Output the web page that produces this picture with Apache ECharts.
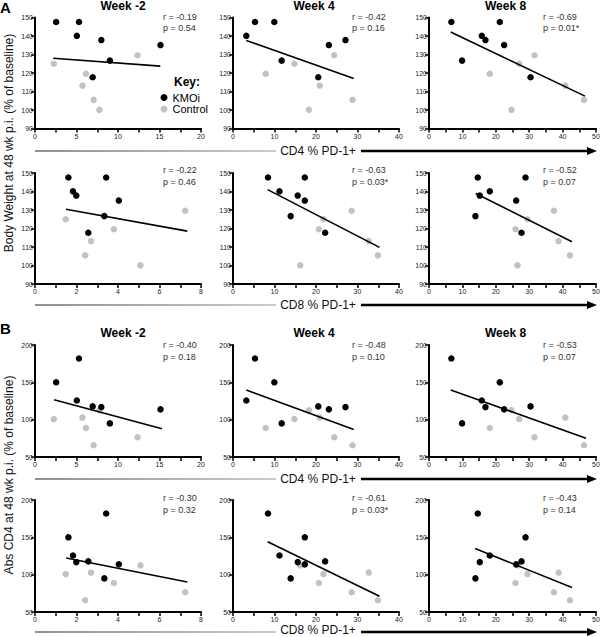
<!DOCTYPE html>
<html><head><meta charset="utf-8">
<script src="https://cdn.jsdelivr.net/npm/echarts@6/dist/echarts.min.js"></script>
<style>html,body{margin:0;padding:0;background:#fff}#c{width:600px;height:637px}</style>
</head><body><div id="c"></div>
<script>
// ---------- data (per subject) ----------
const weeks = ['Week -2', 'Week 4', 'Week 8'];
const groupNames = ['KMOi', 'Control'];
// outcomes (y)
const bwKmoi  = [147.6, 147.6, 140.1, 137.8, 135.1, 126.7, 117.7];
const bwCtrl  = [125.0, 129.6, 119.6, 113.2, 105.5, 100.1];
const absKmoi = [150.0, 182.0, 125.7, 116.8, 113.8, 95.0, 117.8];
const absCtrl = [100.8, 76.4, 88.8, 102.8, 65.7, 112.5];
// CD4 % PD-1+ (x)
const cd4KmoiWm2 = [2.55, 5.3, 5.04, 7.99, 15.12, 9.02, 6.95];
const cd4KmoiW4  = [9.96, 5.30, 3.21, 27.1, 23.1, 11.73, 20.55];
const cd4KmoiW8  = [21.2, 6.7, 15.8, 16.9, 22.5, 9.9, 30.4];
const cd4CtrlWm2 = [2.27, 12.35, 6.14, 5.72, 7.07, 7.75];
const cd4CtrlW4  = [14.8, 24.4, 7.87, 20.9, 28.8, 18.3];
const cd4CtrlW8  = [27.0, 31.6, 18.2, 40.8, 46.4, 24.7];
// CD8 % PD-1+ (x)
const cd8KmoiWm2 = [1.61, 3.43, 1.83, 1.99, 4.04, 3.34, 2.57];
const cd8KmoiW4  = [17.3, 8.43, 11.2, 15.6, 17.3, 13.9, 22.2];
const cd8KmoiW8  = [28.9, 14.6, 18.2, 15.2, 26.1, 13.9, 27.7];
const cd8CtrlWm2 = [1.48, 7.24, 3.8, 2.7, 2.42, 5.08];
const cd8CtrlW4  = [21.8, 28.6, 20.7, 32.7, 34.9, 16.2];
const cd8CtrlW8  = [29.5, 37.4, 25.9, 38.8, 42.2, 26.5];
// regression line end points per panel (row-major)
const fitLines = [
  [[2.2, 128.0], [15.1, 123.7]], [[3.2, 137.6], [29.1, 117.0]], [[6.5, 142.2], [46.7, 107.5]],
  [[1.49, 130.4], [7.34, 118.6]], [[8.35, 141.0], [35.3, 109.8]], [[14.0, 138.9], [42.8, 112.8]],
  [[2.3, 126.6], [15.3, 87.9]], [[3.2, 139.6], [29.1, 86.9]], [[6.5, 139.6], [47.0, 75.2]],
  [[1.5, 122.3], [7.34, 90.2]], [[8.35, 144.0], [35.3, 71.0]], [[13.8, 135.1], [42.8, 82.7]]
];
const rValues = ['-0.19', '-0.42', '-0.69', '-0.22', '-0.63', '-0.52', '-0.40', '-0.48', '-0.53', '-0.30', '-0.61', '-0.43'];
const pValues = ['0.54', '0.16', '0.01*', '0.46', '0.03*', '0.07', '0.18', '0.10', '0.07', '0.32', '0.03*', '0.14'];
// axes
const cd4Max = [20, 40, 50], cd4Tick = [2.5, 5, 5], cd4Label = [5, 10, 10];
const cd8Max = [8, 40, 50],  cd8Tick = [1, 5, 5],   cd8Label = [2, 10, 10];
const bwAxis = [90, 150, 10];
const absAxis = [50, 200, 50];
const xTitles = ['CD4 % PD-1+', 'CD8 % PD-1+'];
const yTitles = ['Body Weight at 48 wk p.i. (% of baseline)', 'Abs CD4 at 48 wk p.i. (% of baseline)'];

// ---------- layout ----------
const colLeft = [35, 233, 429], colW = [166, 166, 167];
const rowTop = [17.5, 173, 345, 500], rowH = [111, 111, 112, 112];
const statX = [163, 352, 543], statY = [16.5, 170, 345, 498];
const titleX = [123, 314, 505.5], titleRowY = {0: 6, 2: 333};
const arrowY = [151, 305, 479, 632];
const arrowTextY = [151, 305, 479, 630];
const FONT = 'Liberation Sans, Arial, Helvetica, sans-serif';

const cd4K = [cd4KmoiWm2, cd4KmoiW4, cd4KmoiW8], cd4C = [cd4CtrlWm2, cd4CtrlW4, cd4CtrlW8];
const cd8K = [cd8KmoiWm2, cd8KmoiW4, cd8KmoiW8], cd8C = [cd8CtrlWm2, cd8CtrlW4, cd8CtrlW8];
const zip = (xs, ys) => xs.map((x, i) => [x, ys[i]]);

const grid = [], xAxis = [], yAxis = [], series = [], graphic = [];
for (let r = 0; r < 4; r++) {
  for (let c = 0; c < 3; c++) {
    const p = r * 3 + c;
    const isCD4 = (r % 2 === 0);
    const isBW = r < 2;
    grid.push({left: colLeft[c], top: rowTop[r], width: colW[c], height: rowH[r], containLabel: false, outerBoundsMode: 'none'});
    const xmax = isCD4 ? cd4Max[c] : cd8Max[c];
    const xint = isCD4 ? cd4Tick[c] : cd8Tick[c];
    const xlab = isCD4 ? cd4Label[c] : cd8Label[c];
    const ya = isBW ? bwAxis : absAxis;
    const axisCommon = {
      axisLine: {show: true, onZero: false, lineStyle: {color: '#000', width: 2}},
      axisTick: {show: true, inside: false, length: 4, lineStyle: {color: '#000', width: 1.5}},
      splitLine: {show: false},
      axisLabel: {fontSize: 7, color: '#222', fontFamily: FONT}
    };
    xAxis.push(Object.assign({}, axisCommon, {
      type: 'value', gridIndex: p, min: 0, max: xmax, interval: xint,
      axisLabel: Object.assign({}, axisCommon.axisLabel, {margin: 4,
        formatter: v => (Math.abs(v / xlab - Math.round(v / xlab)) < 1e-6 ? String(v) : '')})
    }));
    yAxis.push(Object.assign({}, axisCommon, {
      type: 'value', gridIndex: p, min: ya[0], max: ya[1], interval: ya[2],
      axisLabel: Object.assign({}, axisCommon.axisLabel, {margin: 2})
    }));
    const xs = isCD4 ? [cd4K[c], cd4C[c]] : [cd8K[c], cd8C[c]];
    const ys = isBW ? [bwKmoi, bwCtrl] : [absKmoi, absCtrl];
    series.push({type: 'scatter', name: groupNames[1], xAxisIndex: p, yAxisIndex: p,
      data: zip(xs[1], ys[1]), symbol: 'circle', symbolSize: 6.5,
      itemStyle: {color: '#c2c2c2', opacity: 1}, z: 2, silent: true});
    series.push({type: 'scatter', name: groupNames[0], xAxisIndex: p, yAxisIndex: p,
      data: zip(xs[0], ys[0]), symbol: 'circle', symbolSize: 6.5,
      itemStyle: {color: '#000', opacity: 1}, z: 2, silent: true});
    series.push({type: 'line', name: 'fit', xAxisIndex: p, yAxisIndex: p, data: fitLines[p],
      symbol: 'none', lineStyle: {color: '#000', width: 1.6}, z: 3, silent: true});
    graphic.push({type: 'text', silent: true, style: {text: 'r = ' + rValues[p], x: statX[c], y: statY[r],
      textVerticalAlign: 'middle', verticalAlign: 'middle', font: '9px ' + FONT, fill: '#333'}});
    graphic.push({type: 'text', silent: true, style: {text: 'p = ' + pValues[p], x: statX[c], y: statY[r] + 11.5,
      textVerticalAlign: 'middle', verticalAlign: 'middle', font: '9px ' + FONT, fill: '#333'}});
    if (r === 0 || r === 2) {
      graphic.push({type: 'text', silent: true, style: {text: weeks[c], x: titleX[c], y: titleRowY[r],
        textAlign: 'center', align: 'center', textVerticalAlign: 'middle', verticalAlign: 'middle',
        font: 'bold 12px ' + FONT, fill: '#000'}});
    }
  }
  // axis title arrows
  const y = arrowY[r];
  graphic.push({type: 'rect', silent: true, shape: {x: 35, y: y - 0.6, width: 241, height: 1.2},
    style: {fill: {type: 'linear', x: 0, y: 0, x2: 1, y2: 0, colorStops: [
      {offset: 0, color: '#222'}, {offset: 1, color: '#999'}]}}});
  graphic.push({type: 'rect', silent: true, shape: {x: 361, y: y - 1.3, width: 229, height: 2.6}, style: {fill: '#000'}});
  graphic.push({type: 'polygon', silent: true, shape: {points: [[587, y - 4], [597, y], [587, y + 4]]}, style: {fill: '#000'}});
  graphic.push({type: 'text', silent: true, style: {text: xTitles[r % 2], x: 318, y: arrowTextY[r],
    textAlign: 'center', align: 'center', textVerticalAlign: 'middle', verticalAlign: 'middle',
    font: '12px ' + FONT, fill: '#111'}});
}
// panel letters, y titles, key
graphic.push({type: 'text', silent: true, style: {text: 'A', x: 0, y: 7, textVerticalAlign: 'middle', verticalAlign: 'middle', font: 'bold 15px ' + FONT, fill: '#000'}});
graphic.push({type: 'text', silent: true, style: {text: 'B', x: 0, y: 328, textVerticalAlign: 'middle', verticalAlign: 'middle', font: 'bold 15px ' + FONT, fill: '#000'}});
graphic.push({type: 'text', silent: true, rotation: Math.PI / 2, x: 9, y: 143,
  style: {text: yTitles[0], x: 0, y: 0, textAlign: 'center', align: 'center', textVerticalAlign: 'middle', verticalAlign: 'middle', font: '12px ' + FONT, fill: '#111'}});
graphic.push({type: 'text', silent: true, rotation: Math.PI / 2, x: 9, y: 475,
  style: {text: yTitles[1], x: 0, y: 0, textAlign: 'center', align: 'center', textVerticalAlign: 'middle', verticalAlign: 'middle', font: '12px ' + FONT, fill: '#111'}});
graphic.push({type: 'text', silent: true, style: {text: 'Key:', x: 174, y: 82, textVerticalAlign: 'middle', verticalAlign: 'middle', font: 'bold 12px ' + FONT, fill: '#000'}});

const chart = echarts.init(document.getElementById('c'), null, {renderer: 'svg'});
chart.setOption({
  animation: false,
  backgroundColor: '#fff',
  legend: {data: groupNames, left: 160.5, top: 92, orient: 'vertical', icon: 'circle', itemWidth: 7, itemHeight: 7,
    itemGap: 0.5, padding: 0, selectedMode: false,
    textStyle: {fontSize: 11, lineHeight: 11, color: '#000', fontFamily: FONT}},
  grid, xAxis, yAxis, series, graphic
});
</script></body></html>
